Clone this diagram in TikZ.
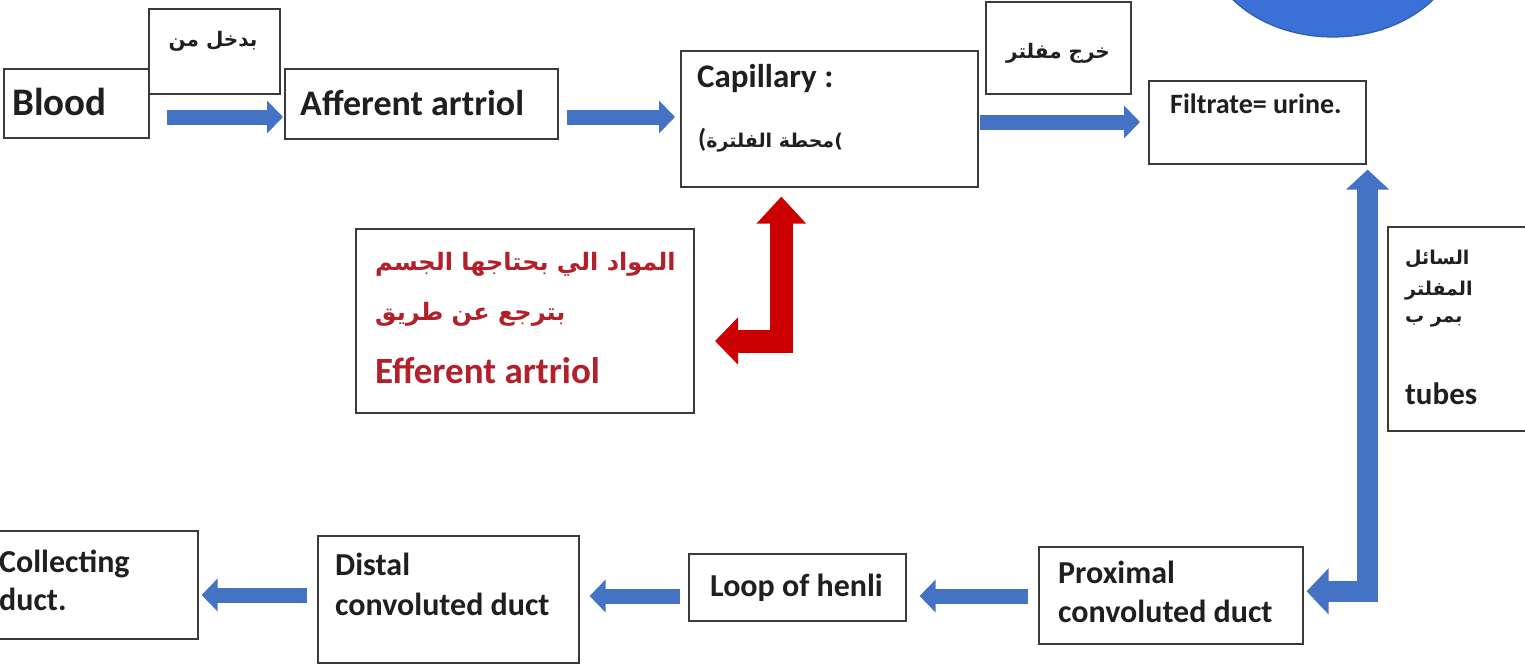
\documentclass[tikz,border=0pt]{standalone}
\usepackage{fontspec}
\setmainfont{Carlito}
\newfontfamily\arabicfont[Script=Arabic]{DejaVu Sans}
\TeXXeTstate=1
\usetikzlibrary{arrows.meta}
\definecolor{boxgray}{HTML}{3A3A3A}
\definecolor{arrowblue}{HTML}{4472C4}
\definecolor{circblue}{HTML}{3B70D6}
\definecolor{circedge}{HTML}{2F5BB0}
\definecolor{arrowred}{HTML}{CC0000}
\definecolor{textred}{HTML}{B3202A}
\tikzset{
  box/.style={draw=boxgray, line width=1.6pt, fill=white, anchor=north west, inner sep=0pt},
  lbl/.style={anchor=base west, inner sep=0pt, font=\fontsize{32}{36}\selectfont\bfseries, text=black!88},
  albl/.style={anchor=base west, inner sep=0pt, font=\fontsize{19}{24}\selectfont\bfseries\arabicfont, text=black!88},
  barrow/.style={draw=arrowblue, line width=15pt, -{Triangle[width=32pt,length=16pt]}},
}
\begin{document}
\begin{tikzpicture}[x=1pt,y=1pt]
\useasboundingbox (0,0) rectangle (1525,-664);
\begin{scope}
\clip (0,0) rectangle (1525,-664);
% blue circle top right
\filldraw[fill=circblue, draw=circedge, line width=1.2pt] (1333,62) ellipse [x radius=128, y radius=99];
% boxes
\node[box, minimum width=145pt, minimum height=69pt] (blood) at (3,-68) {};
\node[box, minimum width=131pt, minimum height=85pt] (enter) at (148,-8) {};
\node[box, minimum width=273pt, minimum height=70pt] (aff) at (284,-68) {};
\node[box, minimum width=297pt, minimum height=136pt] (cap) at (680,-50) {};
\node[box, minimum width=145pt, minimum height=92pt] (out) at (985,-1) {};
\node[box, minimum width=217pt, minimum height=83pt] (filt) at (1148,-80) {};
\node[box, minimum width=338pt, minimum height=184pt] (red) at (355,-228) {};
\node[box, minimum width=138pt, minimum height=204pt] (tubes) at (1387,-226) {};
\node[box, minimum width=205pt, minimum height=108pt] (coll) at (-8,-530) {};
\node[box, minimum width=261pt, minimum height=127pt] (dist) at (317,-535) {};
\node[box, minimum width=217pt, minimum height=67pt] (loop) at (688,-553) {};
\node[box, minimum width=264pt, minimum height=97pt] (prox) at (1038,-546) {};
% texts
\node[lbl, font=\fontsize{39}{42}\selectfont\bfseries] (tblood) at (12,-115) {Blood};
\node[albl, anchor=base, font=\fontsize{20}{24}\selectfont\bfseries\arabicfont] (tenter) at (213,-46) {\beginR بدخل من\endR};
\node[lbl, font=\fontsize{36}{40}\selectfont\bfseries] (taff) at (300,-115) {Afferent artriol};
\node[lbl, font=\fontsize{33}{36}\selectfont\bfseries] (tcap1) at (697,-87) {Capillary :};
\node[lbl, font=\fontsize{26}{30}\selectfont\bfseries] (tcap2) at (698,-147) {(\arabicfont\fontsize{19}{24}\selectfont\beginR محطة الفلترة\endR)};
\node[albl, anchor=base, font=\fontsize{20}{24}\selectfont\bfseries\arabicfont] (tout) at (1058,-58) {\beginR خرج مفلتر\endR};
\node[lbl, font=\fontsize{28}{30}\selectfont\bfseries] (tfilt) at (1170,-113) {Filtrate= urine.};
\node[albl, text=textred, font=\fontsize{24}{28}\selectfont\bfseries\arabicfont] (tred1) at (375,-270) {\beginR المواد الي بحتاجها الجسم\endR};
\node[albl, text=textred, font=\fontsize{24}{28}\selectfont\bfseries\arabicfont] (tred2) at (375,-320) {\beginR بترجع عن طريق\endR};
\node[lbl, text=textred, font=\fontsize{37}{40}\selectfont\bfseries] (tred3) at (375,-383) {Efferent artriol};
\node[albl] (ttub1) at (1405,-264) {\beginR السائل\endR};
\node[albl] (ttub2) at (1405,-295) {\beginR المفلتر\endR};
\node[albl] (ttub3) at (1405,-322) {\beginR بمر ب\endR};
\node[lbl, font=\fontsize{31}{32}\selectfont\bfseries] (ttub4) at (1405,-404) {tubes};
\node[lbl] (tcoll1) at (-1,-572) {Collecting};
\node[lbl] (tcoll2) at (-1,-610) {duct.};
\node[lbl] (tdist1) at (335,-575) {Distal};
\node[lbl] (tdist2) at (335,-615) {convoluted duct};
\node[lbl] (tloop) at (710,-596) {Loop of henli};
\node[lbl] (tprox1) at (1058,-583) {Proximal};
\node[lbl] (tprox2) at (1058,-622) {convoluted duct};
% horizontal blue arrows
\draw[barrow] ([xshift=17pt]blood.east |- 0,-117) -- ([xshift=-1pt]aff.west |- 0,-117);
\draw[barrow] ([xshift=8pt]aff.east |- 0,-117) -- ([xshift=-5pt]cap.west |- 0,-117);
\draw[barrow] ([xshift=1pt]cap.east |- 0,-122) -- ([xshift=-8pt]filt.west |- 0,-122);
\draw[barrow] ([xshift=-10pt]prox.west |- 0,-596) -- ([xshift=13pt]loop.east |- 0,-596);
\draw[barrow] ([xshift=-8pt]loop.west |- 0,-596) -- ([xshift=10pt]dist.east |- 0,-596);
\draw[barrow] ([xshift=-10pt]dist.west |- 0,-595) -- ([xshift=3pt]coll.east |- 0,-595);
% bent blue arrow
\coordinate (bup) at ([xshift=1pt,yshift=-5pt]filt.south east);
\draw[draw=arrowblue, line width=21pt, line join=miter,
  {Triangle[width=45pt,length=22pt]}-{Triangle[width=42pt,length=20pt]}]
  ([xshift=3pt,yshift=4pt]prox.east) -| (bup);
% red bent arrow
\coordinate (rl) at (715,-341);
\coordinate (ru) at ([xshift=-48pt,yshift=-9pt]cap.south);
\draw[draw=arrowred, line width=23pt, line join=miter,
  {Triangle[width=46pt,length=23pt]}-{Triangle[width=48pt,length=27pt]}]
  (rl) -| (ru);
\end{scope}
\end{tikzpicture}
\end{document}
